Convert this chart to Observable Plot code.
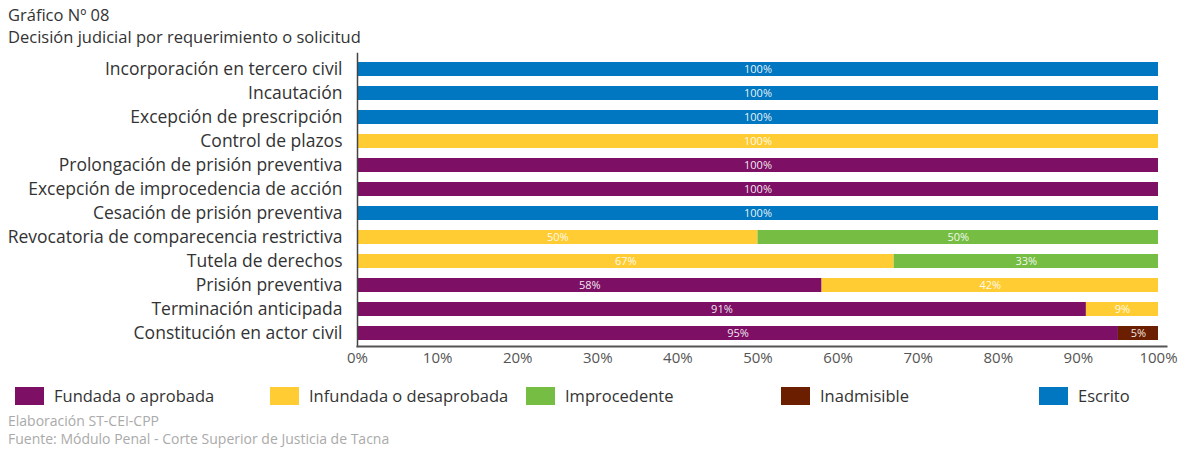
<!DOCTYPE html>
<html>
<head>
<meta charset="utf-8">
<script src="https://cdn.jsdelivr.net/npm/d3@7"></script>
<script src="https://cdn.jsdelivr.net/npm/@observablehq/plot@0.6"></script>
<style>
  body { margin:0; background:#fff; font-family:"Open Sans", sans-serif; }
  #wrap { position:relative; width:1187px; height:452px; overflow:hidden; }
  .title { position:absolute; left:8px; font-size:16.5px; color:#333; white-space:nowrap; }
  #chart { position:absolute; left:0; top:50px; }
  .leg { position:absolute; top:384px; display:flex; align-items:center; font-size:16.5px; color:#333; white-space:nowrap; }
  .sw { width:29px; height:18px; margin-right:10px; }
  .foot { position:absolute; left:8px; font-size:14px; color:#aaa; white-space:nowrap; }
</style>
</head>
<body>
<div id="wrap">
  <div class="title" style="top:3px">Gráfico Nº 08</div>
  <div class="title" style="top:25px">Decisión judicial por requerimiento o solicitud</div>
  <div id="chart"></div>
  <div id="legend"></div>
  <div class="foot" style="top:411px">Elaboración ST-CEI-CPP</div>
  <div class="foot" style="top:429px">Fuente: Módulo Penal - Corte Superior de Justicia de Tacna</div>
</div>
<script>
const categories = [
  "Incorporación en tercero civil",
  "Incautación",
  "Excepción de prescripción",
  "Control de plazos",
  "Prolongación de prisión preventiva",
  "Excepción de improcedencia de acción",
  "Cesación de prisión preventiva",
  "Revocatoria de comparecencia restrictiva",
  "Tutela de derechos",
  "Prisión preventiva",
  "Terminación anticipada",
  "Constitución en actor civil"
];
const seriesNames = ["Fundada o aprobada", "Infundada o desaprobada", "Improcedente", "Inadmisible", "Escrito"];
const seriesColors = ["#7D1065", "#FFCD33", "#76BE43", "#6B1F00", "#0077C0"];
const fundada      = [0, 0, 0, 0, 100, 100, 0, 0, 0, 58, 91, 95];
const infundada    = [0, 0, 0, 100, 0, 0, 0, 50, 67, 42, 9, 0];
const improcedente = [0, 0, 0, 0, 0, 0, 0, 50, 33, 0, 0, 0];
const inadmisible  = [0, 0, 0, 0, 0, 0, 0, 0, 0, 0, 0, 5];
const escrito      = [100, 100, 100, 0, 0, 0, 100, 0, 0, 0, 0, 0];
const xTicks = [0, 10, 20, 30, 40, 50, 60, 70, 80, 90, 100];
const legendX = [15, 270, 526, 781, 1039];

const seriesValues = [fundada, infundada, improcedente, inadmisible, escrito];
const rows = [];
categories.forEach((c, i) => {
  seriesNames.forEach((s, j) => {
    const v = seriesValues[j][i];
    if (v > 0) rows.push({cat: c, series: s, value: v});
  });
});

const chart = Plot.plot({
  width: 1187,
  height: 320,
  marginLeft: 357,
  marginRight: 21,
  marginTop: 3,
  marginBottom: 24,
  style: {fontFamily: "'Open Sans', sans-serif", background: "transparent"},
  x: {domain: [0, 101], label: null},
  y: {domain: categories, label: null, paddingInner: 0.4167, paddingOuter: 0.3125, align: 0.6},
  color: {domain: seriesNames, range: seriesColors},
  marks: [
    Plot.barX(rows, Plot.stackX({x: "value", y: "cat", fill: "series", order: seriesNames})),
    Plot.text(rows, Plot.stackX({x: "value", y: "cat", z: "series", order: seriesNames,
      text: d => d.value + "%", fill: "white", fontSize: 11, fillOpacity: 0.92})),
    Plot.axisY({tickSize: 0, tickPadding: 15, fontSize: 17.5, fill: "#333", label: null}),
    Plot.axisX({ticks: xTicks, tickSize: 0, tickPadding: 6, fontSize: 15, fill: "#555",
      tickFormat: d => d + "%", label: null}),
    Plot.frame({anchor: "left", stroke: "#444", strokeWidth: 1.5}),
    Plot.frame({anchor: "bottom", stroke: "#555", strokeWidth: 2})
  ]
});
document.getElementById("chart").appendChild(chart);

const leg = document.getElementById("legend");
seriesNames.forEach((s, j) => {
  const d = document.createElement("div");
  d.className = "leg";
  d.style.left = legendX[j] + "px";
  d.innerHTML = `<div class="sw" style="background:${seriesColors[j]}"></div><span>${s}</span>`;
  leg.appendChild(d);
});
</script>
</body>
</html>
